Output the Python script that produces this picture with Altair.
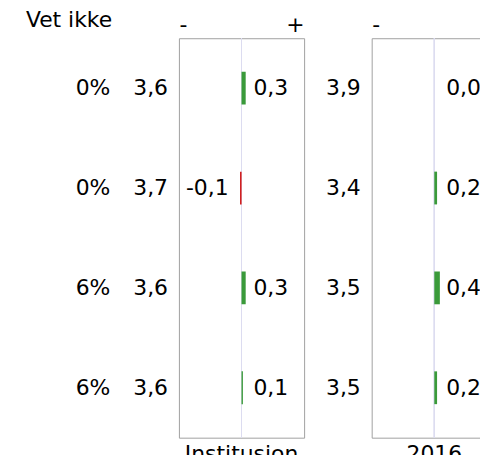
import altair as alt
import pandas as pd

rows = [1, 2, 3, 4]
vet_ikke = ["0%", "0%", "6%", "6%"]
inst_mean = [3.6, 3.7, 3.6, 3.6]
inst_diff = [0.3, -0.1, 0.3, 0.1]
y2016_mean = [3.9, 3.4, 3.5, 3.5]
y2016_diff = [0.0, 0.2, 0.4, 0.2]
panels = ["Institusjon", "2016"]

FONT = "DejaVu Sans"
FS = 22
GREEN = "#3a9a3a"
RED = "#cc0000"
FRAME = "#a0a0a0"
HALF = 4.5
W = 126
H = 402


def fmt(v):
    return f"{v:.1f}".replace(".", ",")


def make_panel(means, diffs, title, show_pct):
    df = pd.DataFrame({
        "row": rows,
        "pct": vet_ikke,
        "mean": [fmt(m) for m in means],
        "diff": diffs,
        "dlabel": [fmt(d) for d in diffs],
    })
    xscale = alt.Scale(domain=[-HALF, HALF], nice=False, zero=False)
    yenc = alt.Y("row:O", axis=None, scale=alt.Scale(paddingInner=0, paddingOuter=0))
    base = alt.Chart(df)

    center = alt.Chart(df).mark_rule(color="#dcdcf0", strokeWidth=1).encode(
        x=alt.datum(0, scale=xscale)
    )
    bars = base.mark_bar(size=33).encode(
        x=alt.X("diff:Q", scale=xscale,
                axis=alt.Axis(orient="top", values=[-HALF, HALF],
                              labelExpr="datum.value < 0 ? '-' : '+'",
                              ticks=False, domain=False, grid=False,
                              labelFontSize=FS, labelFont=FONT, labelColor="#000",
                              labelPadding=2, labelFlush=True, title=None)),
        x2=alt.datum(0),
        y=yenc,
        color=alt.condition("datum.diff < 0", alt.value(RED), alt.value(GREEN)),
    )
    pos_txt = base.transform_filter("datum.diff >= 0").mark_text(
        align="left", baseline="middle", dx=12, fontSize=FS, font=FONT, color="#000"
    ).encode(x=alt.datum(0), y=yenc, text="dlabel:N")
    neg_txt = base.transform_filter("datum.diff < 0").mark_text(
        align="right", baseline="middle", dx=-13, fontSize=FS, font=FONT, color="#000"
    ).encode(x=alt.datum(0), y=yenc, text="dlabel:N")
    mean_txt = base.mark_text(
        align="right", baseline="middle", fontSize=FS, font=FONT, color="#000"
    ).encode(x=alt.value(-11), y=yenc, text="mean:N")

    layers = [center, bars, pos_txt, neg_txt, mean_txt]
    if show_pct:
        pct_txt = base.mark_text(
            align="right", baseline="middle", fontSize=FS, font=FONT, color="#000"
        ).encode(x=alt.value(-69), y=yenc, text="pct:N")
        head = alt.Chart(pd.DataFrame({"t": ["Vet ikke"]})).mark_text(
            align="left", baseline="alphabetic", fontSize=FS, font=FONT, color="#000"
        ).encode(x=alt.value(-154), y=alt.value(-11), text="t:N")
        layers += [pct_txt, head]

    return alt.layer(*layers).properties(
        width=W, height=H,
        title=alt.TitleParams(title, orient="bottom", fontSize=FS, font=FONT,
                              fontWeight="normal", color="#000", offset=6),
    )


p1 = make_panel(inst_mean, inst_diff, panels[0], True)
p2 = make_panel(y2016_mean, y2016_diff, panels[1], False)

chart = alt.hconcat(p1, p2, spacing=68, bounds="flush").properties(
    padding={"left": 17, "top": -1, "right": -18, "bottom": -12},
).configure(font=FONT).configure_view(stroke=FRAME, strokeWidth=1)

chart.save("out.html", embed_options={"renderer": "svg", "actions": False})
